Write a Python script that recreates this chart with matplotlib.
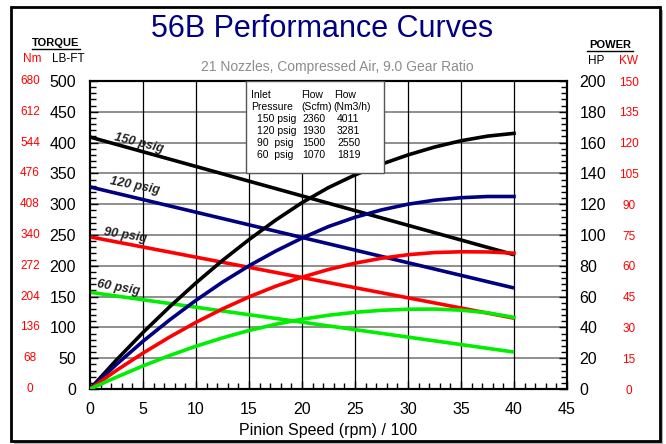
import numpy as np
import matplotlib
matplotlib.use('Agg')
import matplotlib.pyplot as plt
from matplotlib.patches import Rectangle
from matplotlib.lines import Line2D
import matplotlib.transforms as mtransforms

plt.rcParams['font.family'] = ['Liberation Sans', 'DejaVu Sans']

##### DATA #####
# torque lines (LB-FT), straight from 0 to 4000 rpm
torque_speed = [0, 40]
torque_150 = [409, 218]
torque_120 = [328, 164]
torque_90 = [247, 115]
torque_60 = [157, 60]

# power curves (HP)
power_speed = [0, 2.5, 5, 7.5, 10, 12.5, 15, 17.5, 20, 22.5, 25, 27.5, 30, 32.5, 35, 37.5, 40]
power_150 = [0, 18.9, 36.7, 53.3, 68.9, 83.5, 97.0, 109.6, 121.0, 130.8, 139.0, 146.0, 152.0, 157.1, 161.2, 164.2, 166.0]
power_120 = [0, 16.0, 31.0, 44.8, 57.6, 69.4, 80.0, 89.5, 98.0, 105.5, 111.5, 116.3, 120.0, 122.6, 124.2, 125.0, 125.0]
power_90 = [0, 12.1, 23.3, 33.7, 43.3, 52.0, 59.8, 66.7, 72.6, 77.6, 81.7, 84.9, 87.2, 88.6, 89.1, 89.0, 88.2]
power_60 = [0, 7.7, 15.0, 21.7, 27.8, 33.2, 38.0, 42.0, 45.3, 47.9, 49.8, 51.1, 51.8, 51.9, 51.2, 49.5, 46.5]

pressure_labels = ['150 psig', '120 psig', '90 psig', '60 psig']
line_colors = ['black', '#000080', '#ff0000', '#00ee00']

# flow table
table_pressure = ['150 psig', '120 psig', '90  psig', '60  psig']
table_scfm = ['2360', '1930', '1500', '1070']
table_nm3h = ['4011', '3281', '2550', '1819']

# axis tick labels
lbft_ticks = [0, 50, 100, 150, 200, 250, 300, 350, 400, 450, 500]
nm_labels = ['0', '68', '136', '204', '272', '340', '408', '476', '544', '612', '680']
hp_ticks = [0, 20, 40, 60, 80, 100, 120, 140, 160, 180, 200]
kw_labels = ['0', '15', '30', '45', '60', '75', '90', '105', '120', '135', '150']
speed_ticks = [0, 5, 10, 15, 20, 25, 30, 35, 40, 45]

##### FIGURE #####
fig = plt.figure(figsize=(6.66, 4.44), dpi=100)
fig.patch.set_facecolor('white')

# outer frame with a little shadow
fig.patches.append(Rectangle((14/666, 0.001), 649/666, 434/444, transform=fig.transFigure,
                             facecolor='#b0b0b0', edgecolor='none', zorder=0))
fig.patches.append(Rectangle((11/666, 3/444), 649/666, 434/444, transform=fig.transFigure,
                             facecolor='white', edgecolor='black', linewidth=2, zorder=1))

ax = fig.add_axes([90/666, 55/444, 477/666, 308/444])
ax.set_xlim(0, 45)
ax.set_ylim(0, 500)
ax.set_facecolor('none')
ax.set_zorder(2)

# grid
for v in lbft_ticks[1:-1]:
    ax.axhline(v, color='#707070', linewidth=1.1, zorder=1)
for v in speed_ticks[1:-1]:
    ax.axvline(v, color='black', linewidth=0.9, zorder=1)

torques = [torque_150, torque_120, torque_90, torque_60]
for tq, c in zip(torques, line_colors):
    ax.plot(torque_speed, tq, color=c, linewidth=2.6, zorder=3, solid_capstyle='butt')

# psig labels on torque lines
label_pos = [(4.6, 399, -14), (4.2, 329, -11), (3.3, 250, -9), (2.7, 164, -10)]
for lab, (lx, ly, rot) in zip(pressure_labels, label_pos):
    ax.text(lx, ly, lab, fontsize=9, fontweight='bold', fontstyle='italic',
            rotation=rot, ha='center', va='center', color='#222222', zorder=4)

ax.set_xticks(speed_ticks)
ax.set_xticks(np.arange(0, 46, 1), minor=True)
ax.set_yticks(lbft_ticks)
ax.set_yticks(np.arange(0, 501, 10), minor=True)
ax.tick_params(axis='both', which='major', direction='in', length=6, width=1,
               labelsize=11.5, colors='black')
ax.tick_params(axis='y', which='major', pad=10)
ax.tick_params(axis='x', which='major', pad=9)
ax.tick_params(axis='both', which='minor', direction='in', length=4, width=1)
for s in ax.spines.values():
    s.set_linewidth(1.5)
ax.set_xlabel('Pinion Speed (rpm) / 100', fontsize=11.5, labelpad=5)

# power axis
ax2 = ax.twinx()
ax2.set_ylim(0, 200)
ax2.set_yticks(hp_ticks)
ax2.set_yticks(np.arange(0, 201, 4), minor=True)
ax2.tick_params(axis='y', which='major', direction='in', length=6, width=1,
                labelsize=11.5, pad=9)
ax2.tick_params(axis='y', which='minor', direction='in', length=4, width=1)
for s in ax2.spines.values():
    s.set_linewidth(1.5)

powers = [power_150, power_120, power_90, power_60]
for pw, c in zip(powers, line_colors):
    ax2.plot(power_speed, pw, color=c, linewidth=2.6, zorder=3)

# flow table box
ax2.add_patch(Rectangle((14.7, 350), 13.0, 150, transform=ax.transData,
                        facecolor='white', edgecolor='#555555', linewidth=1, zorder=5))
hdr = [('Inlet', 'Pressure', 15.2), ('Flow', '(Scfm)', 19.9), ('Flow', '(Nm3/h)', 23.0)]
for h1, h2, hx in hdr:
    ax2.text(hx, 477, h1, fontsize=7.5, transform=ax.transData, va='center', zorder=6)
    ax2.text(hx, 457, h2, fontsize=7.5, transform=ax.transData, va='center', zorder=6)
for i in range(len(table_pressure)):
    ry = 438 - i * 19.5
    ax2.text(15.8, ry, table_pressure[i], fontsize=7.5, transform=ax.transData, va='center', zorder=6)
    ax2.text(20.0, ry, table_scfm[i], fontsize=7.5, transform=ax.transData, va='center', zorder=6)
    ax2.text(23.3, ry, table_nm3h[i], fontsize=7.5, transform=ax.transData, va='center', zorder=6)

# metric tick labels in red
left_tr = mtransforms.blended_transform_factory(fig.transFigure, ax.transData)
for v, lab in zip(lbft_ticks, nm_labels):
    fig.text(30/666, v, lab, transform=left_tr, color='red', fontsize=8.5,
             ha='center', va='center')
right_tr = mtransforms.blended_transform_factory(fig.transFigure, ax2.transData)
for v, lab in zip(hp_ticks, kw_labels):
    fig.text(629/666, v - 1, lab, transform=right_tr, color='red', fontsize=8.5,
             ha='center', va='center')

##### TITLES #####
fig.text(322/666, 1 - 29/444, '56B Performance Curves', color='#000080', fontsize=22,
         ha='center', va='center')
fig.text(337/666, 1 - 67/444, '21 Nozzles, Compressed Air, 9.0 Gear Ratio', color='#8c8c8c',
         fontsize=10, ha='center', va='center')

fig.text(56/666, 1 - 43/444, 'TORQUE', fontsize=8, fontweight='bold', ha='center', va='center')
fig.lines.append(Line2D([32/666, 80/666], [1 - 49/444, 1 - 49/444], transform=fig.transFigure,
                        color='black', linewidth=1))
fig.text(32/666, 1 - 59/444, 'Nm', color='red', fontsize=8.5, ha='center', va='center')
fig.text(68/666, 1 - 59/444, 'LB-FT', fontsize=8.5, ha='center', va='center')

fig.text(610/666, 1 - 45/444, 'POWER', fontsize=8, fontweight='bold', ha='center', va='center')
fig.lines.append(Line2D([587/666, 633/666], [1 - 51/444, 1 - 51/444], transform=fig.transFigure,
                        color='black', linewidth=1))
fig.text(596/666, 1 - 61/444, 'HP', fontsize=8.5, ha='center', va='center')
fig.text(628/666, 1 - 61/444, 'KW', color='red', fontsize=8.5, ha='center', va='center')

plt.savefig('out.png', dpi=100)
